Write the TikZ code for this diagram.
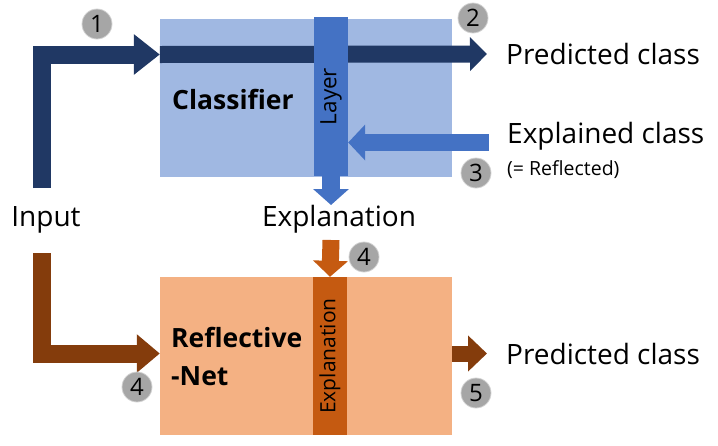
\documentclass[tikz,border=0pt]{standalone}
\usepackage{fontspec}
\setmainfont{Open Sans}
\usetikzlibrary{arrows.meta,positioning,calc}

\definecolor{navy}{HTML}{203864}
\definecolor{clfblue}{HTML}{A0B8E2}
\definecolor{layerblue}{HTML}{4472C4}
\definecolor{netorange}{HTML}{F4B183}
\definecolor{darkorange}{HTML}{C55A11}
\definecolor{rnbrown}{HTML}{843C0C}
\definecolor{numgray}{HTML}{A6A6A6}

\begin{document}
\begin{tikzpicture}[x=1pt,y=-1pt,
    box/.style={minimum width=292pt, minimum height=158pt, inner sep=0pt},
    bar/.style={rotate=90, minimum width=158pt, minimum height=34pt, inner sep=0pt, font=\fontsize{21}{24}\selectfont},
    lbl/.style={font=\fontsize{28}{32}\selectfont, inner sep=0pt},
    title/.style={font=\fontsize{26.5}{38}\selectfont\bfseries, inner sep=0pt},
    note/.style={font=\fontsize{19.5}{22}\selectfont, inner sep=0pt},
    num/.style={circle, fill=numgray, draw=gray!35, line width=0.8pt, minimum size=30pt, inner sep=0pt, font=\fontsize{24}{26}\selectfont},
    navyarrow/.style={draw=navy, line width=18pt, -{Triangle[length=26pt,width=39pt]}},
    navybar/.style={draw=navy, line width=17pt, -{Triangle[length=17pt,width=33pt]}},
    bluearrow/.style={draw=layerblue, line width=17pt, -{Triangle[length=17pt,width=35pt]}},
    orangearrow/.style={draw=darkorange, line width=17pt, -{Triangle[length=16pt,width=34pt]}},
    brownarrow/.style={draw=rnbrown, line width=18pt, -{Triangle[length=23pt,width=37pt]}},
    brownbar/.style={draw=rnbrown, line width=16pt, -{Triangle[length=19pt,width=35pt]}},
]
    \useasboundingbox (0,0) rectangle (718,445);

    % Rows
    \coordinate (row1) at (0,54.5);
    \coordinate (row3) at (0,142.5);
    \coordinate (row5) at (0,353.5);

    % Classifier
    \node[box, fill=clfblue] (clf) at (306,97.5) {};
    \node[title, anchor=west] (clfname) at (172,99) {Classifier};

    % Input
    \node[lbl] (input) at (46,220) {Input};
    \coordinate (inA) at (42,188);
    \draw[navyarrow] (inA) |- (clf.west |- row1);

    % Predicted class (top)
    \node[lbl, anchor=west, inner xsep=19pt] (pred1) at (487,54) {Predicted class};
    \draw[navybar] (clf.west |- row1) -- (pred1.west);

    % Layer
    \node[bar, fill=layerblue, minimum width=159pt, font=\fontsize{22.5}{24}\selectfont] (layer) at (331,96.5) {Layer};

    % Explained class
    \node[lbl, anchor=west, inner xsep=18pt] (expl) at (489,136) {Explained class};
    \node[note, anchor=west] (refl) at (507,170) {(= Reflected)};
    \draw[bluearrow] (expl.west |- row3) -- (layer.south |- row3);

    % Explanation
    \node[lbl, anchor=north] (explan) at (339,205) {Explanation};
    \draw[bluearrow, line width=18pt, -{Triangle[length=16pt,width=35pt]}] (layer.west) -- (layer.west |- explan.north);

    % Reflective-Net
    \node[box, fill=netorange] (rnet) at (306,356) {};
    \node[bar, fill=darkorange] (rexp) at (330,356) {Explanation};
    \node[title, anchor=west, align=left] (rname) at (171,356) {Reflective\\-Net};
    \coordinate (oStart) at (331,240);
    \draw[orangearrow] (oStart) -- (rexp.east);

    \coordinate (inB) at (42,253);
    \draw[brownarrow] (inB) |- (rnet.west |- row5);

    % Predicted class (bottom)
    \node[lbl, anchor=west, inner xsep=19pt] (pred2) at (487,353.5) {Predicted class};
    \draw[brownbar] (rnet.east |- row5) -- (pred2.west);

    % Steps
    \node[num] (n1) at (97,24) {1};
    \node[num] (n2) at (473,18) {2};
    \node[num] (n3) at (476,173) {3};
    \node[num] (n4a) at (364,257) {4};
    \node[num] (n4b) at (137,387) {4};
    \node[num] (n5) at (476,393) {5};
\end{tikzpicture}
\end{document}
